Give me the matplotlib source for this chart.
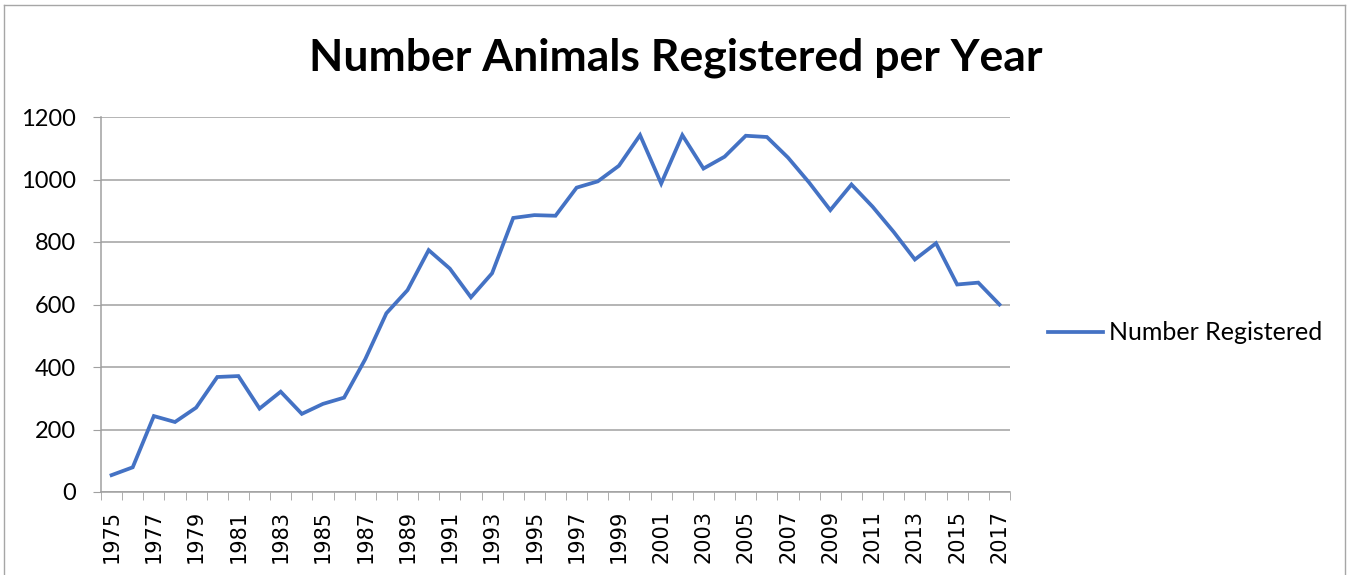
import matplotlib
matplotlib.use("Agg")
import matplotlib.pyplot as plt
from matplotlib.lines import Line2D

years = list(range(1975, 2018))
registered = [54, 79, 243, 224, 270, 368, 371, 267, 321, 250, 282, 302, 425, 572, 646,
              774, 715, 623, 700, 877, 886, 884, 974, 994, 1044, 1142, 987, 1142, 1035,
              1073, 1140, 1136, 1070, 990, 902, 984, 913, 832, 744, 796, 664, 670, 600]
yticks = [0, 200, 400, 600, 800, 1000, 1200]
title = "Number Animals Registered per Year"
series_name = "Number Registered"

W, H = 1349, 575
fig = plt.figure(figsize=(W / 100, H / 100), dpi=100)
ax = fig.add_axes([101 / W, 1 - 492 / H, (1010 - 101) / W, (492 - 117) / H])

x = list(range(len(years)))
ax.plot(x, registered, color="#4472C4", linewidth=2.7, solid_joinstyle="miter", label=series_name)

grid_c = "#A0A0A0"
ax.set_xlim(-0.5, len(years) - 0.5)
ax.set_ylim(0, 1200)
ax.set_yticks(yticks)
ax.set_yticklabels([str(v) for v in yticks], fontfamily="Lato", fontsize=17)
ax.yaxis.grid(True, color=grid_c, linewidth=1.1)
ax.set_axisbelow(True)

ax.set_xticks(x[::2])
ax.set_xticklabels([str(y) for y in years[::2]], rotation=90, fontfamily="DejaVu Sans", fontsize=15)
ax.set_xticks([i - 0.5 for i in range(len(years) + 1)], minor=True)
ax.tick_params(axis="x", which="major", length=0, pad=13)
ax.tick_params(axis="x", which="minor", length=5.8, color=grid_c, direction="out")
ax.tick_params(axis="y", length=5.8, color=grid_c, direction="out", pad=12)

for s in ["top", "right"]:
    ax.spines[s].set_visible(False)
for s in ["left", "bottom"]:
    ax.spines[s].set_color(grid_c)
    ax.spines[s].set_linewidth(1.1)

fig.text(676 / W, 1 - 58 / H, title, ha="center", va="center", fontfamily="Lato",
         fontweight="bold", fontsize=32)

# legend
leg = fig.legend(handles=[Line2D([0], [0], color="#4472C4", linewidth=2.7)], labels=[series_name],
                 loc="center left", bbox_to_anchor=(1040 / W, 1 - 333 / H), frameon=False,
                 prop={"family": "Lato", "size": 18}, handlelength=2.2, handletextpad=0.25,
                 borderpad=0.3, borderaxespad=0.0)

# chart border
bc = "#A6A6A6"
fig.add_artist(Line2D([4 / W, 4 / W], [0, 1 - 5 / H], color=bc, linewidth=1, transform=fig.transFigure))
fig.add_artist(Line2D([4 / W, 1345 / W], [1 - 5 / H, 1 - 5 / H], color=bc, linewidth=1, transform=fig.transFigure))
fig.add_artist(Line2D([1345 / W, 1345 / W], [0, 1 - 5 / H], color=bc, linewidth=1, transform=fig.transFigure))

fig.savefig("out.png", dpi=100)
